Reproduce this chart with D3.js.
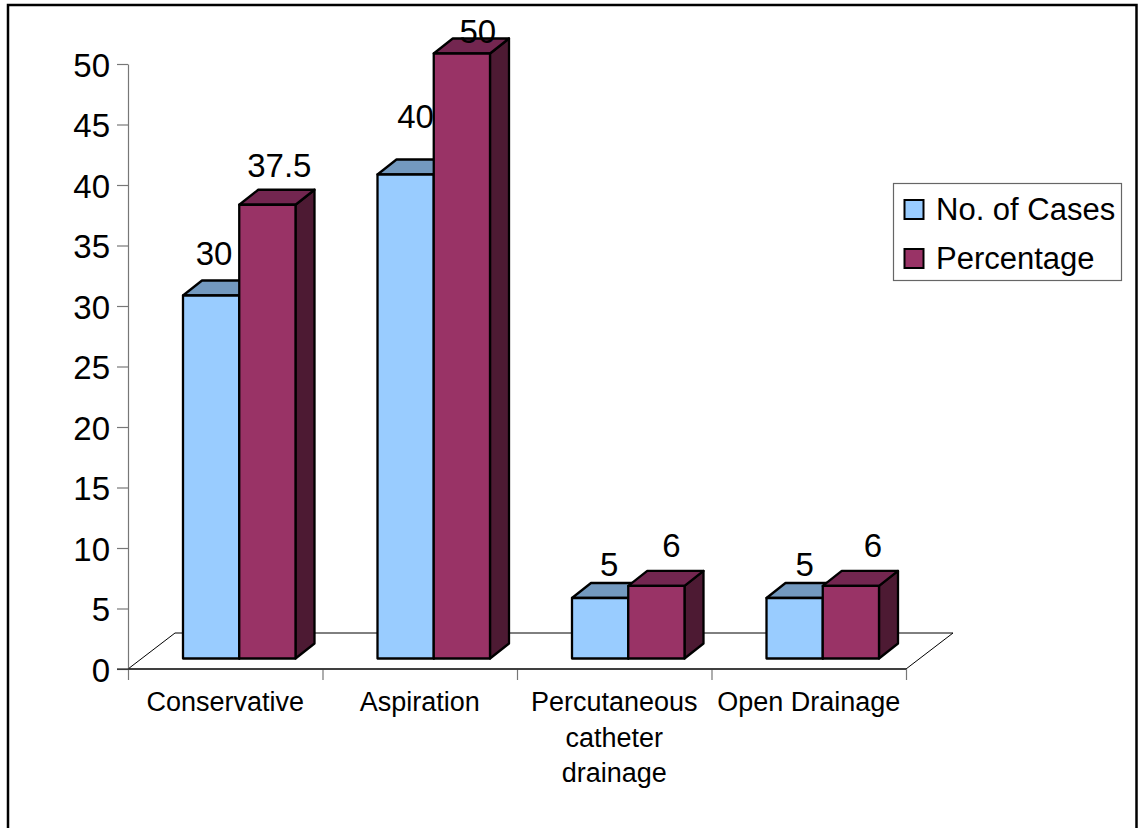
<!DOCTYPE html>
<html>
<head>
<meta charset="utf-8">
<script src="https://cdn.jsdelivr.net/npm/d3@7"></script>
<style>
  html, body { margin: 0; padding: 0; background: #fff; }
  svg { display: block; }
  text { font-family: "Liberation Sans", Arial, sans-serif; fill: #000; }
</style>
</head>
<body>
<svg id="chart" width="1140" height="828"></svg>
<script>
// Treatment categories and the two measured series
const categories = ["Conservative", "Aspiration", "Percutaneous catheter drainage", "Open Drainage"];
const categoryLines = [["Conservative"], ["Aspiration"], ["Percutaneous", "catheter", "drainage"], ["Open Drainage"]];
const seriesNames = ["No. of Cases", "Percentage"];
const noOfCases = [30, 40, 5, 5];
const percentage = [37.5, 50, 6, 6];
const yTicks = [0, 5, 10, 15, 20, 25, 30, 35, 40, 45, 50];

// Hand-placed value label shifts, relative to the top front edge of each bar
const caseLabelShift = [[3, -30.5], [10, -46.5], [9, -22.5], [10, -22.5]];
const pctLabelShift = [[12, -27.5], [16, -10.5], [15, -28.5], [22, -28.5]];

const seriesStyle = [
  { front: "#99ccff", top: "#7399bf", side: "#4d6680" },
  { front: "#993366", top: "#732650", side: "#4d1a33" }
];

const svg = d3.select("#chart");

const plot = { left: 128, right: 906, top: 64, bottom: 669 };
const floorDepth = { dx: 47, dy: -36 };
const barDepth = { dx: 19, dy: -15 };
const barBaseLift = 10.5;

const y = d3.scaleLinear().domain([0, 50]).range([plot.bottom, plot.top]);
const xBand = d3.scaleBand().domain(categories).range([plot.left, plot.right]);
const xSeries = d3.scaleBand().domain(seriesNames).range([55, 167.5]);
const xTicks = d3.scaleLinear().domain([0, categories.length]).range([plot.left, plot.right]);

// Outer frame: open along the bottom edge
svg.append("path")
  .attr("d", d3.line()([[8, 828], [8, 5], [1136.5, 5], [1136.5, 828]]))
  .attr("fill", "none").attr("stroke", "#000").attr("stroke-width", 2.5);

// Chart floor
svg.append("path")
  .attr("d", d3.line()([
    [plot.left, plot.bottom],
    [plot.left + floorDepth.dx, plot.bottom + floorDepth.dy],
    [plot.right + floorDepth.dx, plot.bottom + floorDepth.dy],
    [plot.right, plot.bottom]
  ]) + "Z")
  .attr("fill", "#fff").attr("stroke", "#000").attr("stroke-width", 1);

// Value axis
const yAxis = svg.append("g")
  .attr("transform", `translate(${plot.left},0)`)
  .call(d3.axisLeft(y).tickValues(yTicks).tickSize(11).tickPadding(7).tickSizeOuter(0));
yAxis.select(".domain").attr("stroke", "#777").attr("stroke-width", 1.2);
yAxis.selectAll(".tick line").attr("stroke", "#777").attr("stroke-width", 1.2);
yAxis.selectAll(".tick text")
  .style("font-family", '"Liberation Sans", Arial, sans-serif')
  .style("font-size", "33px").attr("fill", "#000").attr("dy", "0.37em");

// Category axis: ticks sit on the band boundaries
const xAxis = svg.append("g")
  .attr("transform", `translate(0,${plot.bottom})`)
  .call(d3.axisBottom(xTicks).ticks(categories.length).tickFormat("").tickSize(11).tickSizeOuter(0));
xAxis.select(".domain").remove();
xAxis.selectAll(".tick line").attr("stroke", "#777").attr("stroke-width", 1.2);
svg.append("line")
  .attr("x1", plot.left - 11).attr("x2", plot.right)
  .attr("y1", plot.bottom).attr("y2", plot.bottom)
  .attr("stroke", "#000").attr("stroke-width", 1.2);

categoryLines.forEach((lines, i) => {
  const t = svg.append("text")
    .attr("text-anchor", "middle")
    .attr("font-size", 27);
  lines.forEach((line, j) => {
    t.append("tspan")
      .attr("x", xBand(categories[i]) + xBand.bandwidth() / 2)
      .attr("y", 711 + j * 35.5)
      .text(line);
  });
});

// Extruded bars, drawn series by series so later columns overlap earlier ones
function drawBar(g, x0, x1, value, style) {
  const base = y(0) - barBaseLift;
  const topY = y(value) - barBaseLift;
  const { dx, dy } = barDepth;
  const faces = [
    { fill: style.side, pts: [[x1, base], [x1 + dx, base + dy], [x1 + dx, topY + dy], [x1, topY]] },
    { fill: style.top, pts: [[x0, topY], [x0 + dx, topY + dy], [x1 + dx, topY + dy], [x1, topY]] },
    { fill: style.front, pts: [[x0, base], [x0, topY], [x1, topY], [x1, base]] }
  ];
  g.selectAll(null).data(faces).join("path")
    .attr("d", f => d3.line()(f.pts) + "Z")
    .attr("fill", f => f.fill)
    .attr("stroke", "#000")
    .attr("stroke-width", 2.3)
    .attr("stroke-linejoin", "round");
}

const allSeries = [noOfCases, percentage];
const allShifts = [caseLabelShift, pctLabelShift];

categories.forEach((cat, i) => {
  const g = svg.append("g");
  seriesNames.forEach((name, s) => {
    const x0 = xBand(cat) + xSeries(name);
    drawBar(g, x0, x0 + xSeries.bandwidth(), allSeries[s][i], seriesStyle[s]);
  });
});

// Value labels on top of all the bars
categories.forEach((cat, i) => {
  seriesNames.forEach((name, s) => {
    const v = allSeries[s][i];
    const [sx, sy] = allShifts[s][i];
    svg.append("text")
      .attr("x", xBand(cat) + xSeries(name) + xSeries.bandwidth() / 2 + sx)
      .attr("y", y(v) - barBaseLift + sy)
      .attr("text-anchor", "middle")
      .attr("font-size", 33)
      .text(v);
  });
});

// Legend
const legend = svg.append("g");
legend.append("rect")
  .attr("x", 893.5).attr("y", 183.5).attr("width", 228).attr("height", 97)
  .attr("fill", "#fff").attr("stroke", "#666").attr("stroke-width", 1.2);
seriesNames.forEach((name, s) => {
  const rowY = 210 + s * 49;
  legend.append("rect")
    .attr("x", 904.5).attr("y", rowY - 10).attr("width", 19).attr("height", 19)
    .attr("fill", seriesStyle[s].front).attr("stroke", "#000").attr("stroke-width", 2);
  legend.append("text")
    .attr("x", 936).attr("y", rowY + 10)
    .attr("font-size", 31)
    .text(name);
});
</script>
</body>
</html>
